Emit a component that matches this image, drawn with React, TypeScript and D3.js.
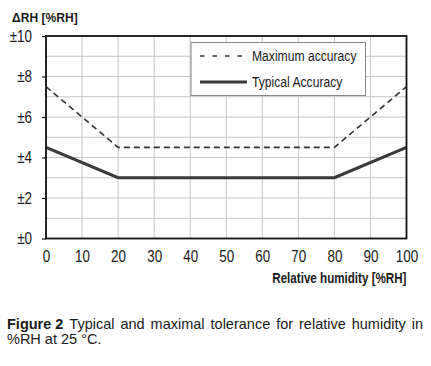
import React, { useRef, useEffect } from "react";
import * as d3 from "d3";

const humidity = [0, 20, 80, 100];
const maxAccuracy = [7.5, 4.5, 4.5, 7.5];
const typicalAccuracy = [4.5, 3, 3, 4.5];
const xTicks = [0, 10, 20, 30, 40, 50, 60, 70, 80, 90, 100];
const yTicks = [0, 2, 4, 6, 8, 10];
const yGrid = [1, 2, 3, 4, 5, 6, 7, 8, 9];
const seriesNames = ["Maximum accuracy", "Typical Accuracy"];
const captionLabel = "Figure 2";
const captionLine1 = "Typical and maximal tolerance for relative humidity in";
const captionLine2 = "%RH at 25 °C.";

const SANS = "'Liberation Sans', Arial, sans-serif";

// squeeze a text horizontally around its own x, to mimic Arial Narrow
function narrow(sel, k) {
  sel.each(function () {
    const x0 = +(this.getAttribute("x") || 0);
    d3.select(this).attr("transform", `translate(${x0 * (1 - k)},0) scale(${k},1)`);
  });
}

const App = () => {
  const svgRef = useRef(null);

  useEffect(() => {
    const svg = d3.select(svgRef.current);
    svg.selectAll("*").remove();

    const left = 46, right = 406.5, top = 36, bottom = 238.5;
    const x = d3.scaleLinear().domain([0, 100]).range([left, right]);
    const y = d3.scaleLinear().domain([0, 10]).range([bottom, top]);

    // grid
    svg.append("g")
      .selectAll("line")
      .data(xTicks)
      .join("line")
      .attr("x1", (d) => x(d)).attr("x2", (d) => x(d))
      .attr("y1", top).attr("y2", bottom)
      .attr("stroke", "#c4c4c4").attr("stroke-width", 1);
    svg.append("g")
      .selectAll("line")
      .data(yGrid)
      .join("line")
      .attr("x1", left).attr("x2", right)
      .attr("y1", (d) => y(d)).attr("y2", (d) => y(d))
      .attr("stroke", "#c4c4c4").attr("stroke-width", 1);

    // series
    const line = d3.line().x((d) => x(d[0])).y((d) => y(d[1]));
    svg.append("path")
      .datum(humidity.map((h, i) => [h, maxAccuracy[i]]))
      .attr("d", line)
      .attr("fill", "none")
      .attr("stroke", "#333")
      .attr("stroke-width", 1.6)
      .attr("stroke-dasharray", "6,4");
    svg.append("path")
      .datum(humidity.map((h, i) => [h, typicalAccuracy[i]]))
      .attr("d", line)
      .attr("fill", "none")
      .attr("stroke", "#3a3a3a")
      .attr("stroke-width", 3.2);

    // frame
    svg.append("rect")
      .attr("x", left).attr("y", top)
      .attr("width", right - left).attr("height", bottom - top)
      .attr("fill", "none").attr("stroke", "#111").attr("stroke-width", 1.8);

    // y axis
    const yAxis = svg.append("g")
      .attr("transform", `translate(${left},0)`)
      .call(d3.axisLeft(y).tickValues(yTicks).tickSize(4).tickPadding(10)
        .tickFormat((d) => "±" + d));
    yAxis.select(".domain").remove();
    yAxis.selectAll("line").attr("stroke", "#111").attr("stroke-width", 1.2);
    yAxis.selectAll("text")
      .style("font-family", SANS).style("font-size", "16px").attr("fill", "#1a1a1a")
      .call(narrow, 0.84);

    // x axis
    const xAxis = svg.append("g")
      .attr("transform", `translate(0,${bottom})`)
      .call(d3.axisBottom(x).tickValues(xTicks).tickSize(0).tickPadding(12));
    xAxis.select(".domain").remove();
    xAxis.selectAll("text")
      .style("font-family", SANS).style("font-size", "16px").attr("fill", "#1a1a1a")
      .call(narrow, 0.84);

    // axis titles
    svg.append("text")
      .attr("x", 12).attr("y", 22.5)
      .style("font-family", SANS).style("font-size", "13px").style("font-weight", "bold")
      .attr("fill", "#1a1a1a")
      .text("ΔRH [%RH]")
      .call(narrow, 0.93);
    svg.append("text")
      .attr("x", right).attr("y", 283)
      .attr("text-anchor", "end")
      .style("font-family", SANS).style("font-size", "14px").style("font-weight", "bold")
      .attr("fill", "#1a1a1a")
      .text("Relative humidity [%RH]")
      .call(narrow, 0.83);

    // legend
    const lg = svg.append("g");
    lg.append("rect")
      .attr("x", 191).attr("y", 42.5).attr("width", 174.5).attr("height", 53)
      .attr("fill", "#fff").attr("stroke", "#888").attr("stroke-width", 1);
    const legendY = [56, 82];
    lg.append("line")
      .attr("x1", 200).attr("x2", 244).attr("y1", legendY[0]).attr("y2", legendY[0])
      .attr("stroke", "#333").attr("stroke-width", 1.6).attr("stroke-dasharray", "4.5,8");
    lg.append("line")
      .attr("x1", 200).attr("x2", 247).attr("y1", legendY[1]).attr("y2", legendY[1])
      .attr("stroke", "#3a3a3a").attr("stroke-width", 3.2);
    lg.selectAll("text")
      .data(seriesNames)
      .join("text")
      .attr("x", 252).attr("y", (d, i) => legendY[i] + 5.5)
      .style("font-family", SANS).style("font-size", "15px").attr("fill", "#1a1a1a")
      .text((d) => d)
      .call(narrow, 0.81);

    // caption: first line justified to the right edge
    const capX0 = 7, capX1 = 423, capSize = 14.5;
    const label = svg.append("text")
      .attr("x", capX0).attr("y", 329)
      .style("font-family", SANS).style("font-size", capSize + "px").style("font-weight", "bold")
      .attr("fill", "#1a1a1a")
      .text(captionLabel);
    const labelW = label.node().getComputedTextLength();
    const rest = svg.append("text")
      .attr("y", 329)
      .style("font-family", SANS).style("font-size", capSize + "px")
      .attr("fill", "#1a1a1a")
      .text(captionLine1);
    const restW = rest.node().getComputedTextLength();
    const nGaps = captionLine1.split(" ").length; // gaps incl. the one after the label
    const space = capSize * 0.278;
    const extra = (capX1 - capX0 - labelW - restW - space) / nGaps;
    rest.attr("x", capX0 + labelW + space + extra)
      .style("word-spacing", extra + "px");
    svg.append("text")
      .attr("x", capX0).attr("y", 344)
      .style("font-family", SANS).style("font-size", capSize + "px").attr("fill", "#1a1a1a")
      .text(captionLine2);
  }, []);

  return (
    <svg
      ref={svgRef}
      width={431}
      height={366}
      style={{ position: "absolute", left: 0, top: 0, background: "#fff" }}
    ></svg>
  );
};

export default App;
